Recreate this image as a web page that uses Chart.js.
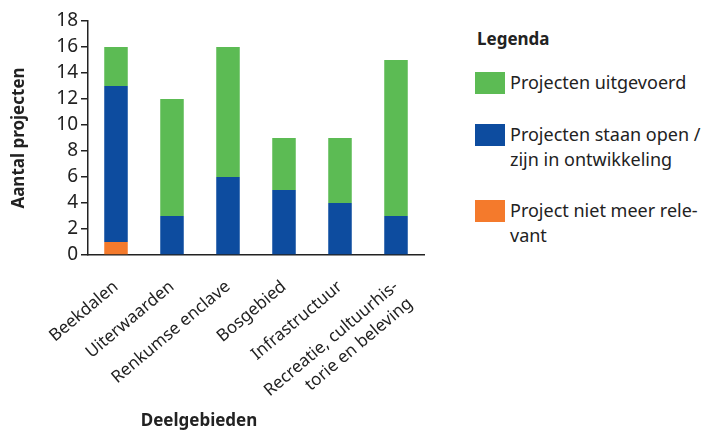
<!DOCTYPE html>
<html>
<head>
<meta charset="utf-8">
<script src="https://cdn.jsdelivr.net/npm/chart.js@4.4.1/dist/chart.umd.min.js"></script>
<style>
    body { margin: 0; background: #fff; font-family: "Noto Sans", sans-serif; color: #222; }
    #wrap { position: relative; width: 704px; height: 430px; overflow: hidden; }
    #chartBox { position: absolute; left: 0; top: 0; width: 460px; height: 430px; }
    .x-title { position: absolute; left: 199px; top: 410px; transform: translateX(-50%); font-weight: bold; font-size: 17px; line-height: 20px; }
    .legend-title { position: absolute; left: 477px; top: 27px; font-weight: bold; font-size: 17px; }
    .legend-item { position: absolute; left: 475px; }
    .legend-item .swatch { position: absolute; left: 0; top: 1.5px; width: 30px; height: 22px; }
    .legend-item .text { position: absolute; left: 35px; top: 0; font-size: 18px; line-height: 25px; white-space: nowrap; }
</style>
</head>
<body>
<div id="wrap">
    <div id="chartBox"><canvas id="projectChart"></canvas></div>
    <div class="x-title">Deelgebieden</div>
    <div class="legend-title">Legenda</div>
    <div id="legendBox"></div>
</div>
<script>
// Categories (deelgebieden)
const categories = [
    'Beekdalen',
    'Uiterwaarden',
    'Renkumse enclave',
    'Bosgebied',
    'Infrastructuur',
    ['Recreatie, cultuurhis-', 'torie en beleving']
];

// Series values (stacked from bottom to top)
const nietRelevant = [1, 0, 0, 0, 0, 0];
const openOntwikkeling = [12, 3, 6, 5, 4, 3];
const uitgevoerd = [3, 9, 10, 4, 5, 12];

// Series names and legend lines
const seriesNames = ['Project niet meer relevant', 'Projecten staan open / zijn in ontwikkeling', 'Projecten uitgevoerd'];
const legendLines = [
    ['Project niet meer rele-', 'vant'],
    ['Projecten staan open /', 'zijn in ontwikkeling'],
    ['Projecten uitgevoerd']
];
const seriesColors = ['#f47a2c', '#0d4c9f', '#5cbb54'];

// Y-axis ticks
const yTicks = [0, 2, 4, 6, 8, 10, 12, 14, 16, 18];

const textColor = '#222222';
const axisColor = '#222222';

const ctx = document.getElementById('projectChart');
new Chart(ctx, {
    type: 'bar',
    data: {
        labels: categories,
        datasets: [
            { label: seriesNames[0], data: nietRelevant, backgroundColor: seriesColors[0] },
            { label: seriesNames[1], data: openOntwikkeling, backgroundColor: seriesColors[1] },
            { label: seriesNames[2], data: uitgevoerd, backgroundColor: seriesColors[2] }
        ]
    },
    options: {
        responsive: true,
        maintainAspectRatio: false,
        animation: false,
        categoryPercentage: 1,
        barPercentage: 0.42,
        layout: { padding: { top: 21, right: 36, left: 0, bottom: 0 } },
        plugins: {
            legend: { display: false },
            tooltip: { enabled: false }
        },
        scales: {
            x: {
                stacked: true,
                grid: { display: false, drawTicks: false },
                border: { color: axisColor, width: 1.5 },
                ticks: {
                    color: textColor,
                    font: { family: 'Noto Sans', size: 17, lineHeight: 1.3 },
                    minRotation: 40,
                    maxRotation: 40,
                    padding: 21,
                    autoSkip: false
                },
                afterFit: function(scale) { scale.height = 175; }
            },
            y: {
                stacked: true,
                min: 0,
                max: 18,
                afterBuildTicks: function(scale) {
                    scale.ticks = yTicks.map(v => ({ value: v }));
                },
                grid: { drawOnChartArea: false, drawTicks: true, tickLength: 7, color: axisColor, lineWidth: 1.5 },
                border: { color: axisColor, width: 1.5 },
                ticks: {
                    color: textColor,
                    font: { family: 'Noto Sans', size: 19 },
                    padding: 3
                },
                title: {
                    display: true,
                    text: 'Aantal projecten',
                    color: textColor,
                    font: { family: 'Noto Sans', size: 17, weight: 'bold' },
                    padding: { top: 9, bottom: 0 }
                },
                afterFit: function(scale) { scale.width = 88; }
            }
        }
    }
});

// Custom legend on the right
const legendTops = [198, 122, 70];
const legendBox = document.getElementById('legendBox');
seriesNames.forEach(function(name, i) {
    const item = document.createElement('div');
    item.className = 'legend-item';
    item.style.top = legendTops[i] + 'px';
    item.innerHTML = '<div class="swatch" style="background:' + seriesColors[i] + '"></div>' +
        '<div class="text">' + legendLines[i].join('<br>') + '</div>';
    legendBox.appendChild(item);
});
</script>
</body>
</html>
